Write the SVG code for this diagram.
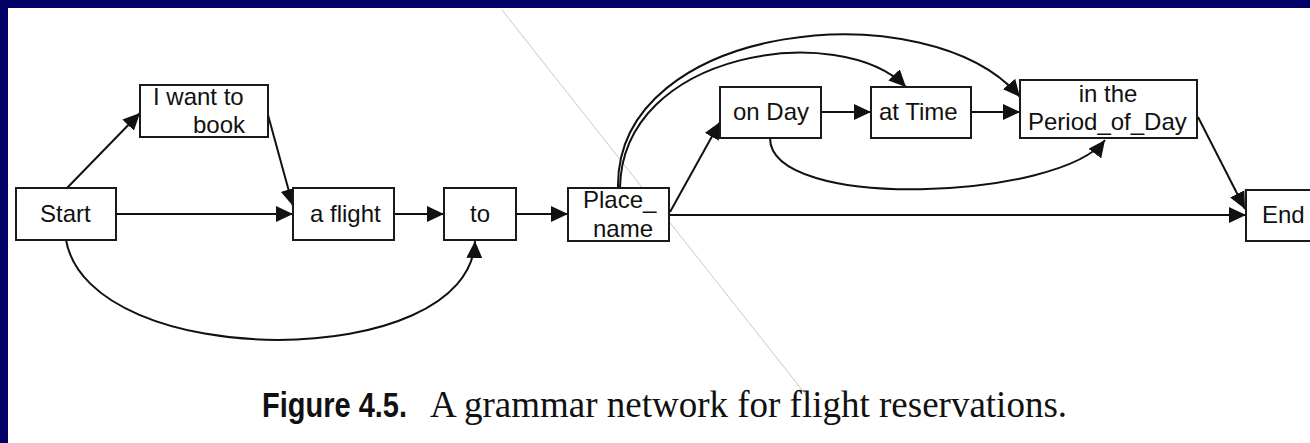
<svg xmlns="http://www.w3.org/2000/svg" width="1310" height="443" viewBox="0 0 1310 443">
  <style>
    .box { fill: #ffffff; stroke: #1a1a1a; stroke-width: 2; }
    .lbl { font-family: "Liberation Sans", Arial, sans-serif; font-size: 24px; fill: #111111; }
    .edge { fill: none; stroke: #111111; stroke-width: 2; }
    .cap-b { font-family: "Liberation Sans", Arial, sans-serif; font-weight: bold; font-size: 35px; fill: #111111; }
    .cap { font-family: "Liberation Serif", "Times New Roman", serif; font-size: 37px; fill: #111111; }
  </style>
  <defs>
    <marker id="arr" markerUnits="userSpaceOnUse" markerWidth="17" markerHeight="16" refX="17" refY="8" orient="auto">
      <path d="M0,0 L17,8 L0,16 Z" fill="#111111"/>
    </marker>
  </defs>

  <rect x="0" y="0" width="1310" height="443" fill="#000066"/>
  <rect x="8" y="8" width="1302" height="435" fill="#ffffff"/>

  <g id="scan-artifact">
    <line x1="502" y1="10" x2="810" y2="400" stroke="#c8c8c8" stroke-width="1"/>
  </g>

  <g id="connectors">
    <path class="edge" d="M67,188 L140,113" marker-end="url(#arr)"/>
    <path class="edge" d="M268,115 L293,206" marker-end="url(#arr)"/>
    <path class="edge" d="M116,214 L293,214" marker-end="url(#arr)"/>
    <path class="edge" d="M394,214 L444,214" marker-end="url(#arr)"/>
    <path class="edge" d="M516,214 L568,214" marker-end="url(#arr)"/>
    <path class="edge" d="M669,215 L1246,215" marker-end="url(#arr)"/>
    <path class="edge" d="M670,212 L720,122" marker-end="url(#arr)"/>
    <path class="edge" d="M821,112 L871,112" marker-end="url(#arr)"/>
    <path class="edge" d="M971,112 L1020,112" marker-end="url(#arr)"/>
    <path class="edge" d="M1198,117 L1245,209" marker-end="url(#arr)"/>
    <path class="edge" d="M66,240 C90,373 470,373 475,241" marker-end="url(#arr)"/>
    <path class="edge" d="M620,188 C622,50 840,20 906,87" marker-end="url(#arr)"/>
    <path class="edge" d="M618,188 C615,20 930,-10 1020,97" marker-end="url(#arr)"/>
    <path class="edge" d="M770,138 C770,212 1060,200 1105,140" marker-end="url(#arr)"/>
  </g>

  <g id="node-start">
    <rect class="box" x="16" y="188" width="100" height="52"/>
    <text class="lbl" x="40" y="222">Start</text>
  </g>
  <g id="node-i-want-to-book">
    <rect class="box" x="140" y="85" width="128" height="52"/>
    <text class="lbl" x="153" y="105">I want to</text>
    <text class="lbl" x="193" y="133">book</text>
  </g>
  <g id="node-a-flight">
    <rect class="box" x="293" y="188" width="101" height="52"/>
    <text class="lbl" x="310" y="222">a flight</text>
  </g>
  <g id="node-to">
    <rect class="box" x="444" y="188" width="72" height="52"/>
    <text class="lbl" x="480" y="222" text-anchor="middle">to</text>
  </g>
  <g id="node-place-name">
    <rect class="box" x="568" y="188" width="101" height="53"/>
    <text class="lbl" x="583" y="208">Place_</text>
    <text class="lbl" x="593" y="237">name</text>
  </g>
  <g id="node-on-day">
    <rect class="box" x="720" y="87" width="101" height="51"/>
    <text class="lbl" x="733" y="120">on Day</text>
  </g>
  <g id="node-at-time">
    <rect class="box" x="871" y="87" width="100" height="51"/>
    <text class="lbl" x="879" y="120">at Time</text>
  </g>
  <g id="node-period-of-day">
    <rect class="box" x="1020" y="80" width="177" height="58"/>
    <text class="lbl" x="1108" y="102" text-anchor="middle">in the</text>
    <text class="lbl" x="1028" y="130">Period_of_Day</text>
  </g>
  <g id="node-end">
    <rect class="box" x="1246" y="190" width="70" height="51"/>
    <text class="lbl" x="1262" y="223">End</text>
  </g>

  <g id="caption">
    <text class="cap-b" x="262" y="417" textLength="145" lengthAdjust="spacingAndGlyphs">Figure 4.5.</text>
    <text class="cap" x="430" y="417">A grammar network for flight reservations.</text>
  </g>
</svg>
